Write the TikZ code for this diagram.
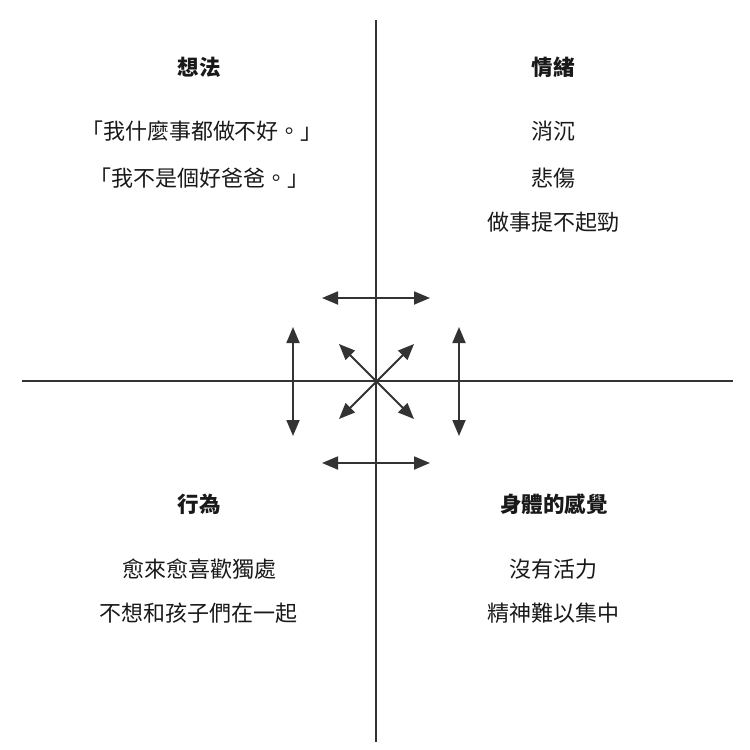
\documentclass[tikz,border=0pt]{standalone}
\usepackage{fontspec}
\newfontfamily\cjk{Noto Sans CJK TC}
\usetikzlibrary{arrows.meta}

\begin{document}
\begin{tikzpicture}
[x=1pt,y=-1pt,
axis/.style={line width=1.6pt,draw=black!80},
dbl/.style={line width=1.8pt,draw=black!80,{Triangle[length=16pt,width=13pt]}-{Triangle[length=16pt,width=13pt]}},
head/.style={font=\cjk\bfseries\fontsize{21.5}{21.5}\selectfont,text=black!90},
item/.style={font=\cjk\fontsize{22}{22}\selectfont,text=black!90}]
\useasboundingbox (0,0) rectangle (750,750);
% axes
\coordinate (n) at (376,20);
\coordinate (s) at (376,742);
\coordinate (w) at (22,381);
\coordinate (e) at (733,381);
\draw[axis] (n) -- (s);
\draw[axis] (w) -- (e);
% arrows
\coordinate (a1) at (322,298);
\coordinate (a2) at (430,298);
\coordinate (b1) at (322,463);
\coordinate (b2) at (430,463);
\coordinate (c1) at (293,327);
\coordinate (c2) at (293,436);
\coordinate (d1) at (459,327);
\coordinate (d2) at (459,436);
\coordinate (ul) at (339,344);
\coordinate (lr) at (414,419);
\coordinate (ur) at (414,344);
\coordinate (ll) at (339,419);
\draw[dbl] (a1) -- (a2);
\draw[dbl] (b1) -- (b2);
\draw[dbl] (c1) -- (c2);
\draw[dbl] (d1) -- (d2);
\draw[dbl] (ul) -- (lr);
\draw[dbl] (ur) -- (ll);
% thoughts
\node[head] (th) at (199,67) {想法};
\node[item] (th1) at (202,131) {「我什麼事都做不好。」};
\node[item] (th2) at (199,178) {「我不是個好爸爸。」};
% emotions
\node[head] (em) at (553,67) {情緒};
\node[item] (em1) at (553,131) {消沉};
\node[item] (em2) at (553,178) {悲傷};
\node[item] (em3) at (553,222) {做事提不起勁};
% behaviour
\node[head] (be) at (199,504) {行為};
\node[item] (be1) at (199,569) {愈來愈喜歡獨處};
\node[item] (be2) at (198,613) {不想和孩子們在一起};
% body
\node[head] (bo) at (554,504) {身體的感覺};
\node[item] (bo1) at (553,569) {沒有活力};
\node[item] (bo2) at (553,613) {精神難以集中};
\end{tikzpicture}
\end{document}
